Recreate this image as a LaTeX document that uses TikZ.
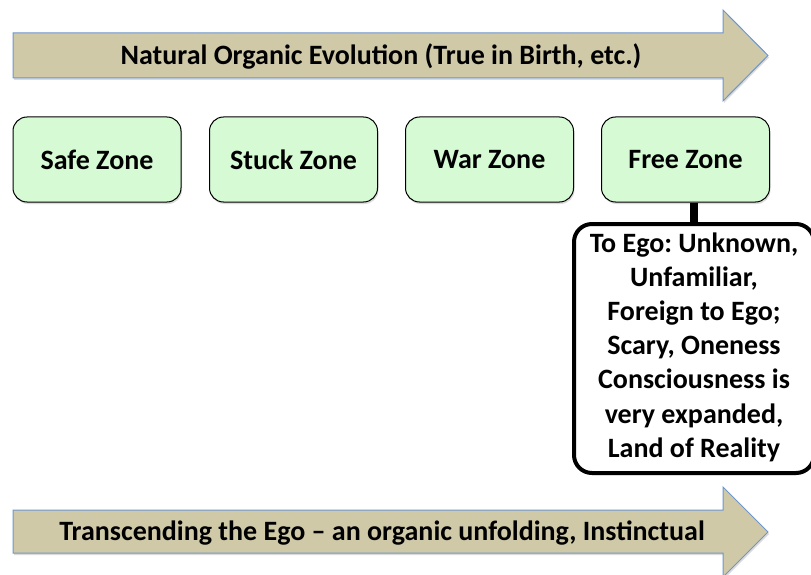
\documentclass[tikz,border=0pt]{standalone}
\usepackage{fontspec}
\setmainfont{Carlito}
\usetikzlibrary{shadows}
\frenchspacing
\definecolor{arrowfill}{RGB}{207,201,167}
\definecolor{arrowedge}{RGB}{110,150,205}
\definecolor{zonefill}{RGB}{214,250,212}
\tikzset{
  softshadow/.style={drop shadow={opacity=0.14, shadow xshift=1pt, shadow yshift=-2pt, fill=black}},
  bigarrow/.style={draw=arrowedge, line width=1pt, fill=arrowfill, line join=miter, softshadow},
  zonebox/.style={draw=black, line width=1pt, fill=zonefill, rounded corners=14pt, softshadow,
    minimum width=168pt, minimum height=85pt, font=\bfseries\fontsize{28}{32}\selectfont, inner sep=0pt},
  callbox/.style={draw=black, line width=4pt, fill=white, rounded corners=18pt, softshadow,
    minimum width=240pt, minimum height=249pt, inner sep=0pt},
  calltext/.style={align=center, inner sep=0pt, font=\bfseries\fontsize{28}{34.2}\selectfont},
  arrowlabel/.style={font=\bfseries\fontsize{28}{32}\selectfont, inner sep=0pt}
}
\begin{document}
\begin{tikzpicture}[x=1pt,y=-1pt]
\useasboundingbox (0,0) rectangle (811,575);
% top arrow
\draw[bigarrow] (13,33) -- (723,33) -- (723,10) -- (768,55.5) -- (723,101) -- (723,78) -- (13,78) -- cycle;
\node[arrowlabel] (toplabel) at (381,56) {Natural Organic Evolution (True in Birth, etc.)};
% zones
\node[zonebox] (safe) at (97,159.5) {\raisebox{-2pt}{Safe Zone}};
\node[zonebox] (stuck) at (293.5,159.5) {\raisebox{-2pt}{Stuck Zone}};
\node[zonebox] (war) at (489.5,159.5) {\raisebox{-2pt}{War Zone}};
\node[zonebox] (free) at (685.5,159.5) {\raisebox{-2pt}{Free Zone}};
% callout
\node[callbox] (call) at (694,348.5) {};
\node[calltext] (calltxt) at (694,347) {To Ego: Unknown,\\Unfamiliar,\\Foreign to Ego;\\Scary, Oneness\\Consciousness is\\very expanded,\\Land of Reality};
\draw[line width=8pt] (call.north) ++(0,1) coordinate (cn) -- (cn |- free.south);
% bottom arrow
\draw[bigarrow] (13,510) -- (723,510) -- (723,487) -- (768,532) -- (723,577) -- (723,553) -- (13,553) -- cycle;
\node[arrowlabel] (botlabel) at (382,533) {Transcending the Ego -- an organic unfolding, Instinctual};
\end{tikzpicture}
\end{document}
